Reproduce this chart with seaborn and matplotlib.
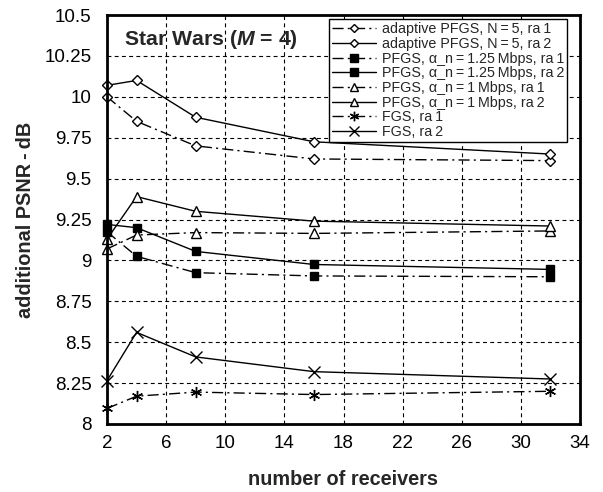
import matplotlib
matplotlib.use("Agg")
import matplotlib.pyplot as plt
import seaborn as sns
import pandas as pd
from matplotlib.ticker import FuncFormatter

receivers = [2, 4, 8, 16, 32]

adaptive_ra1 = [10.00, 9.85, 9.70, 9.62, 9.61]
adaptive_ra2 = [10.07, 10.10, 9.875, 9.725, 9.65]
pfgs125_ra1 = [9.175, 9.025, 8.925, 8.905, 8.90]
pfgs125_ra2 = [9.22, 9.20, 9.055, 8.975, 8.945]
pfgs1_ra1 = [9.07, 9.155, 9.17, 9.165, 9.18]
pfgs1_ra2 = [9.13, 9.39, 9.30, 9.24, 9.21]
fgs_ra1 = [8.095, 8.17, 8.195, 8.18, 8.20]
fgs_ra2 = [8.265, 8.56, 8.41, 8.32, 8.275]

ts = "\u2009"
labels = [
    f"adaptive PFGS, N{ts}={ts}5, ra{ts}1",
    f"adaptive PFGS, N{ts}={ts}5, ra{ts}2",
    f"PFGS, α_n{ts}={ts}1.25{ts}Mbps, ra{ts}1",
    f"PFGS, α_n{ts}={ts}1.25{ts}Mbps, ra{ts}2",
    f"PFGS, α_n{ts}={ts}1{ts}Mbps, ra{ts}1",
    f"PFGS, α_n{ts}={ts}1{ts}Mbps, ra{ts}2",
    f"FGS, ra{ts}1",
    f"FGS, ra{ts}2",
]
series = [adaptive_ra1, adaptive_ra2, pfgs125_ra1, pfgs125_ra2,
          pfgs1_ra1, pfgs1_ra2, fgs_ra1, fgs_ra2]

x_ticks = [2, 6, 10, 14, 18, 22, 26, 30, 34]
y_ticks = [8, 8.25, 8.5, 8.75, 9, 9.25, 9.5, 9.75, 10, 10.25, 10.5]

sns.set_theme(style="white")
plt.rcParams["font.family"] = ["Liberation Sans", "DejaVu Sans"]
plt.rcParams["mathtext.fontset"] = "custom"
plt.rcParams["mathtext.it"] = "Liberation Sans:italic:bold"
plt.rcParams["mathtext.rm"] = "Liberation Sans:bold"

dashdot = (0, (8, 3, 1.5, 3))
styles = [
    dict(marker="D", ls=dashdot, mfc="white", ms=5),
    dict(marker="D", ls="-", mfc="white", ms=5),
    dict(marker="s", ls=dashdot, mfc="black", ms=6),
    dict(marker="s", ls="-", mfc="black", ms=6),
    dict(marker="^", ls=dashdot, mfc="white", ms=7),
    dict(marker="^", ls="-", mfc="white", ms=7),
    dict(marker=(6, 2, 0), ls=dashdot, mfc="black", ms=8),
    dict(marker="x", ls="-", mfc="black", ms=8),
]

fig = plt.figure(figsize=(6.03, 4.92), dpi=100)
ax = fig.add_axes([107 / 603, 68 / 492, 473 / 603, 409 / 492])

for vals, lab, st in zip(series, labels, styles):
    df = pd.DataFrame({"receivers": receivers, "psnr": vals})
    sns.lineplot(data=df, x="receivers", y="psnr", ax=ax, color="black",
                 linewidth=1.0, linestyle=st["ls"], marker=st["marker"],
                 markersize=st["ms"], markerfacecolor=st["mfc"],
                 markeredgecolor="black", markeredgewidth=1.0, label=lab,
                 clip_on=False, zorder=3)

ax.set_xlim(2, 34)
ax.set_ylim(8, 10.5)
ax.set_xticks(x_ticks)
ax.set_yticks(y_ticks)
ax.yaxis.set_major_formatter(FuncFormatter(lambda v, p: f"{v:g}"))
ax.tick_params(axis="x", labelsize=13.5, length=0, pad=8, colors="black")
ax.tick_params(axis="y", labelsize=13.5, length=0, pad=11, colors="black")
ax.grid(True, color="black", linestyle=(0, (3.5, 3)), linewidth=0.8)
for s in ax.spines.values():
    s.set_color("black")
    s.set_linewidth(2.0)
    s.set_zorder(4)

ax.set_xlabel("number of receivers", fontsize=14.3, fontweight="bold",
              labelpad=13)
ax.set_ylabel(f"additional PSNR{ts}-{ts}dB", fontsize=14.3,
              fontweight="bold", labelpad=7)

ax.text(0.036, 0.94, r"Star Wars ($M$ = 4)", transform=ax.transAxes,
        fontsize=15.3, fontweight="bold", va="center", ha="left")

leg = ax.legend(loc="upper right", bbox_to_anchor=(0.9725, 0.9895),
                fontsize=10.3, frameon=True, fancybox=False,
                handlelength=3.1, handletextpad=0.4, labelspacing=0.05,
                borderpad=0.2, borderaxespad=0.0, markerscale=0.85)
leg.get_frame().set_edgecolor("black")
leg.get_frame().set_linewidth(1.0)
leg.get_frame().set_alpha(1.0)
leg.set_zorder(5)

fig.savefig("out.png", dpi=100)
